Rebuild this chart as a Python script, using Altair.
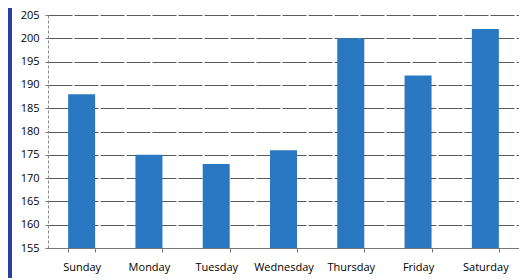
import altair as alt
import pandas as pd

days = ["Sunday", "Monday", "Tuesday", "Wednesday", "Thursday", "Friday", "Saturday"]
values = [188, 175, 173, 176, 200, 192, 202]
y_ticks = list(range(155, 206, 5))

df = pd.DataFrame({"day": days, "value": values})

bars = alt.Chart(df).mark_bar(color="#2a78c2", size=27, clip=True).encode(
    x=alt.X("day:N", sort=days, title=None,
            scale=alt.Scale(paddingInner=0.6, paddingOuter=0.3),
            axis=alt.Axis(labelAngle=0, labelFont="Open Sans", labelFontSize=11,
                          labelColor="#000", labelPadding=9,
                          domainColor="#777", tickColor="#777", tickSize=4,
                          tickBand="extent", grid=False)),
    y=alt.Y("value:Q", title=None,
            scale=alt.Scale(domain=[155, 205], nice=False, zero=False),
            axis=alt.Axis(values=y_ticks, labelFont="Open Sans", labelFontSize=11,
                          labelColor="#000", labelPadding=6,
                          domainColor="#888", domainDash=[3, 2],
                          tickColor="#777", tickSize=3,
                          grid=True, gridColor="#5a5a5a", gridDash=[24, 2],
                          gridWidth=1)),
)

border = alt.Chart(df).mark_rule(color="#2b3f9e", strokeWidth=3).encode(
    x=alt.value(-38), y=alt.value(-8), y2=alt.value(265)
)

chart = alt.layer(bars, border).properties(
    width=471, height=233,
    autosize=alt.AutoSizeParams(type="none"),
    padding={"left": 40, "top": 7, "right": 0, "bottom": 30},
).configure_view(stroke=None)

chart.save("out.html", embed_options={"renderer": "svg", "actions": False})
